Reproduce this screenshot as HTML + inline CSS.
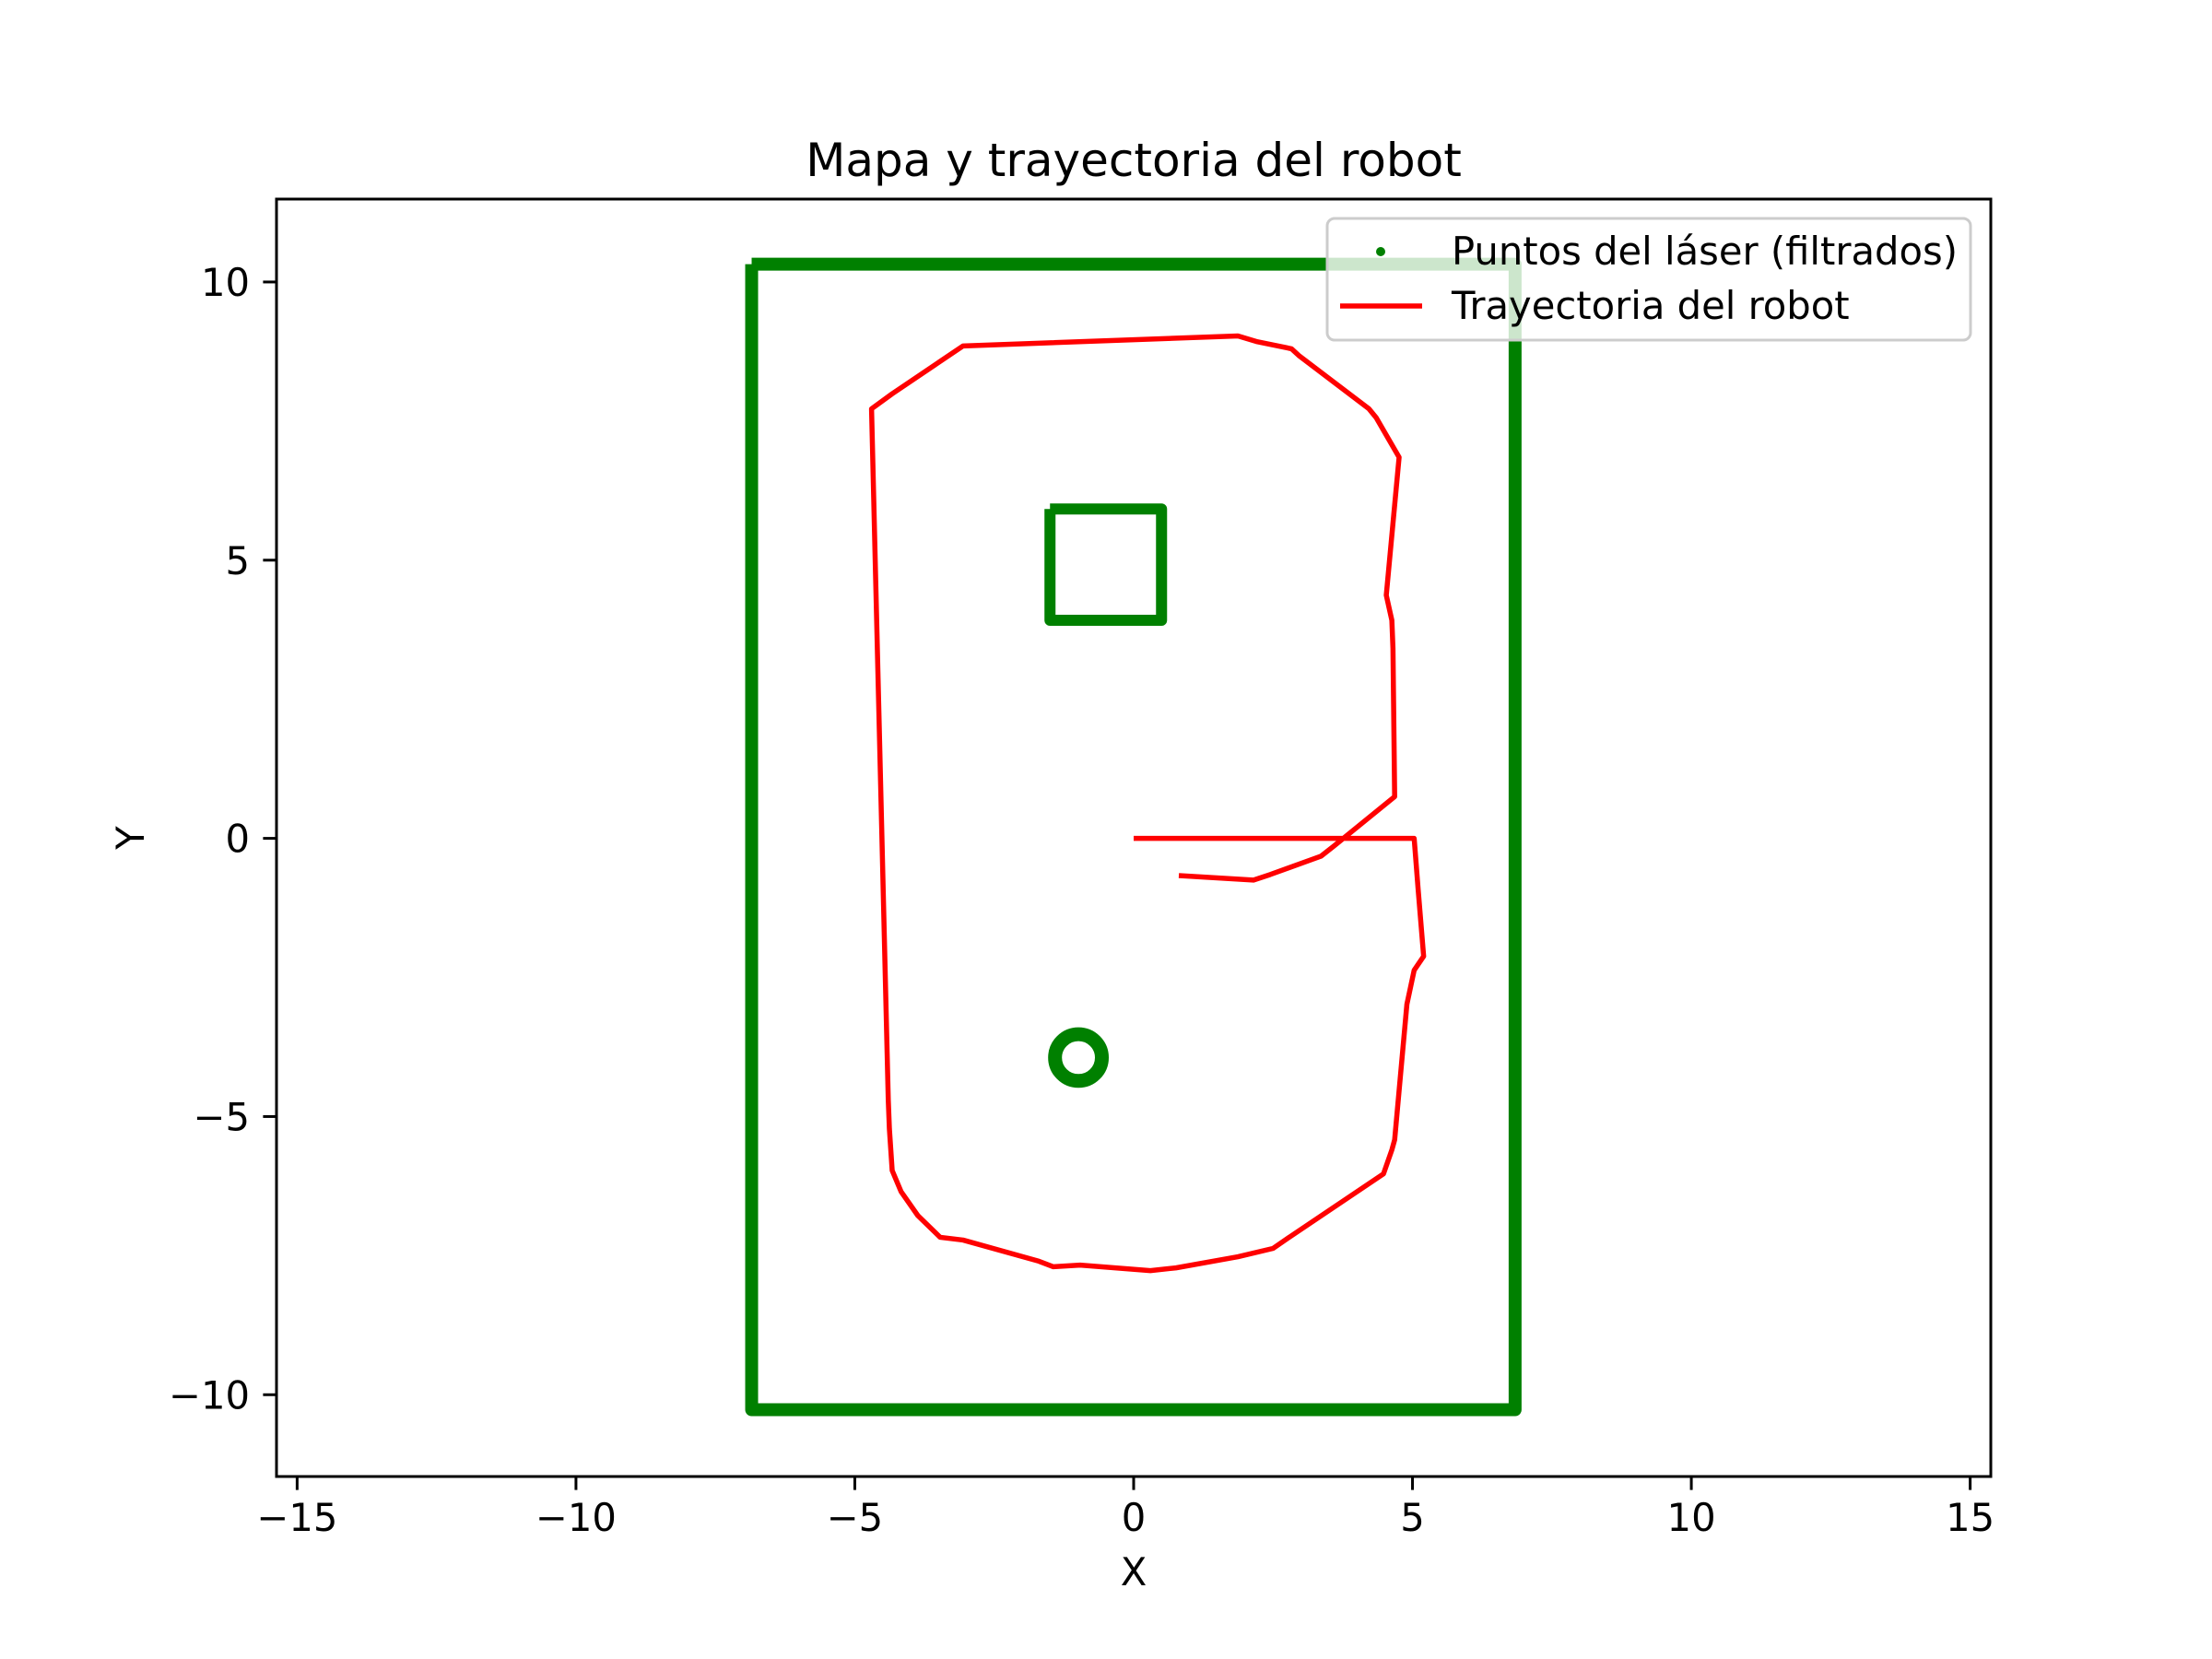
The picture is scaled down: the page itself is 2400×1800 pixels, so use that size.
<!DOCTYPE html>
<html><head><meta charset="utf-8"><style>
html,body{margin:0;padding:0;background:#fff}
svg{display:block;font-family:"DejaVu Sans","Liberation Sans",sans-serif}
</style></head><body>
<svg id="chart" width="2400" height="1800" viewBox="0 0 2400 1800">
<rect width="2400" height="1800" fill="#fff"/>
<g id="plot"></g>
</svg>
<script>
const xTicks = [-15, -10, -5, 0, 5, 10, 15];
const yTicks = [-10, -5, 0, 5, 10];
const wallX = [-6.85, 6.84, 6.84, -6.85, -6.85];
const wallY = [10.32, 10.32, -10.27, -10.27, 10.32];
const boxX = [-1.5, 0.5, 0.5, -1.5, -1.5];
const boxY = [5.92, 5.92, 3.92, 3.92, 5.92];
const circleCenter = [-0.99, -3.94];
const circleRadius = [0.42];
const trajX = [0,5.03,5.1,5.2,5.03,4.9,4.68,4.63,4.48,2.76,2.5,1.87,0.76,0.3,-0.96,-1.44,-1.7,-3.06,-3.47,-3.87,-4.17,-4.33,-4.38,-4.4,-4.7,-4.33,-3.06,1.87,2.2,2.83,2.96,4.22,4.35,4.76,4.53,4.63,4.65,4.68,3.59,3.36,2.45,2.15,0.81];
const trajY = [0,0,-0.9,-2.12,-2.37,-2.98,-5.42,-5.6,-6.03,-7.19,-7.37,-7.52,-7.72,-7.77,-7.67,-7.7,-7.6,-7.22,-7.17,-6.78,-6.35,-5.97,-5.22,-4.7,7.72,7.99,8.85,9.03,8.93,8.8,8.68,7.72,7.56,6.85,4.37,3.92,3.41,0.75,-0.14,-0.32,-0.65,-0.75,-0.67];

const L=300,R=2160,T=216,B=1602;
const xMin=-15.37,xMax=15.37,yMin=-11.47,yMax=11.49;
const sx=v=>L+(v-xMin)/(xMax-xMin)*(R-L);
const sy=v=>B-(v-yMin)/(yMax-yMin)*(B-T);
const NS='http://www.w3.org/2000/svg';
const g=document.getElementById('plot');
function mk(tag,attrs,parent){const e=document.createElementNS(NS,tag);for(const k in attrs)e.setAttribute(k,attrs[k]);(parent||g).appendChild(e);return e;}
function txt(s,attrs){const e=mk('text',attrs);e.textContent=s;return e;}

const green='#008000';
let p=mk('polyline',{points:wallX.map((x,i)=>sx(x)+','+sy(wallY[i])).join(' '),fill:'none',stroke:green,'stroke-width':14,'stroke-linejoin':'round'});


p=mk('polyline',{points:boxX.map((x,i)=>sx(x)+','+sy(boxY[i])).join(' '),fill:'none',stroke:green,'stroke-width':12,'stroke-linejoin':'round'});


p=mk('ellipse',{cx:sx(circleCenter[0]),cy:sy(circleCenter[1]),rx:sx(circleCenter[0]+circleRadius[0])-sx(circleCenter[0]),ry:sy(circleCenter[1])-sy(circleCenter[1]+circleRadius[0]),fill:'none',stroke:green,'stroke-width':15});



p=mk('polyline',{points:trajX.map((x,i)=>sx(x)+','+sy(trajY[i])).join(' '),fill:'none',stroke:'#ff0000','stroke-width':5.5,'stroke-linejoin':'round'});



p=mk('rect',{x:L,y:T,width:R-L,height:B-T,fill:'none',stroke:'#000','stroke-width':3});



xTicks.forEach(v=>{
  const x=sx(v);
  let t=mk('line',{x1:x,x2:x,y1:B,y2:B+14.6,stroke:'#000','stroke-width':3});
  
  
  t=txt(v<0?'\u2212'+Math.abs(v):String(v),{x:x,y:1661,'font-size':41.7,'text-anchor':'middle',fill:'#000'});
  
  
});
yTicks.forEach(v=>{
  const y=sy(v);
  let t=mk('line',{x1:L-14.6,x2:L,y1:y,y2:y,stroke:'#000','stroke-width':3});
  
  
  t=txt(v<0?'\u2212'+Math.abs(v):String(v),{x:L-29,y:y+15,'font-size':41.7,'text-anchor':'end',fill:'#000'});
  
  
});
let t=txt('Mapa y trayectoria del robot',{x:(L+R)/2,y:191,'font-size':50,'text-anchor':'middle',fill:'#000'});


t=txt('X',{x:(L+R)/2,y:1720,'font-size':41.7,'text-anchor':'middle',fill:'#000'});


t=txt('Y',{x:156,y:(T+B)/2,'font-size':41.7,'text-anchor':'middle',fill:'#000',transform:'rotate(-90 156 '+((T+B)/2)+')'});



const lg=mk('g',{});


let r=mk('rect',{x:1440,y:237,width:698,height:132,rx:8,fill:'#fff','fill-opacity':0.8,stroke:'#cccccc','stroke-width':3},lg);


r=mk('circle',{cx:1498,cy:273,r:5,fill:green},lg);


r=mk('line',{x1:1454,x2:1543,y1:332,y2:332,stroke:'#ff0000','stroke-width':5.5},lg);


r=mk('text',{x:1575,y:287,'font-size':41.7,fill:'#000'},lg);r.textContent='Puntos del láser (filtrados)';


r=mk('text',{x:1575,y:346,'font-size':41.7,fill:'#000'},lg);r.textContent='Trayectoria del robot';


</script>
</body></html>
